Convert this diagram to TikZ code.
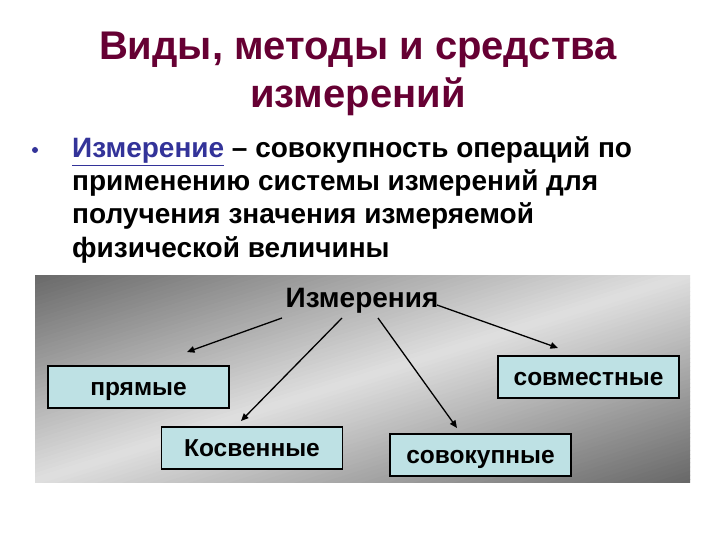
\documentclass[tikz,border=0pt]{standalone}
\usepackage{fontspec}
\setmainfont{Liberation Sans}
\usetikzlibrary{arrows.meta}
\definecolor{titlec}{RGB}{102,0,51}
\definecolor{linkc}{RGB}{51,51,153}
\definecolor{boxc}{RGB}{190,225,228}
\begin{document}
\begin{tikzpicture}[x=1pt,y=-1pt,
  titletxt/.style={font=\fontsize{40}{48}\selectfont\bfseries, text=titlec, inner sep=0pt, anchor=base},
  bodytxt/.style={font=\fontsize{28}{33}\selectfont\bfseries, inner sep=0pt, anchor=base west},
  headtxt/.style={font=\fontsize{28}{33}\selectfont\bfseries, inner sep=0pt, anchor=base},
  catbox/.style={draw=black, line width=1.1pt, fill=boxc, minimum width=181pt, minimum height=42pt, inner sep=0pt, text height=22pt, text depth=5pt, font=\fontsize{24.5}{28}\selectfont\bfseries},
  arr/.style={line width=1.3pt, -{Triangle[length=7.5pt,width=6.5pt]}}
]
\useasboundingbox (0,0) rectangle (720,540);
\fill[white] (0,0) rectangle (720,540);

% title
\node[titletxt] (t1) at (358,60) {Виды, методы и средства};
\node[titletxt] (t2) at (358,108) {измерений};

% bullet text
\node[circle, fill=linkc, inner sep=0pt, minimum size=6pt] (bul) at (35,150) {};
\node[bodytxt] (l1) at (72,158) {\textcolor{linkc}{\underline{Измерение}} – совокупность операций по};
\node[bodytxt] (l2) at (72,191) {применению системы измерений для};
\node[bodytxt] (l3) at (72,224) {получения значения измеряемой};
\node[bodytxt] (l4) at (72,257) {физической величины};

% panel with diagonal gradient
\begin{scope}
\clip (35,275) rectangle (690,482);
\foreach \d in {-260,-256,...,260}{
  \pgfmathtruncatemacro\gv{224-118*min(abs(\d+2)/196,1.1)}
  \fill[fill={rgb,255:red,\gv;green,\gv;blue,\gv}]
   ({362+0.30*\d-0.95*800},{378+0.95*\d+0.30*800}) --
   ({362+0.30*\d+0.95*800},{378+0.95*\d-0.30*800}) --
   ({362+0.30*(\d+4.6)+0.95*800},{378+0.95*(\d+4.6)-0.30*800}) --
   ({362+0.30*(\d+4.6)-0.95*800},{378+0.95*(\d+4.6)+0.30*800}) -- cycle;
}
\end{scope}

\node[headtxt] (izm) at (362,307) {Измерения};

\node[catbox] (pr) at (138.5,387) {прямые};
\node[catbox] (kos) at (252,448) {Косвенные};
\node[catbox] (sov) at (480.5,455) {совокупные};
\node[catbox] (sovm) at (588.5,377) {совместные};

\coordinate (s1) at (282,318);
\coordinate (e1) at (187,352);
\coordinate (s2) at (342,318);
\coordinate (e2) at (241,421);
\coordinate (s3) at (378,318);
\coordinate (e3) at (457,428);
\coordinate (s4) at (437,305);
\coordinate (e4) at (558,348);

\draw[arr] (s1) -- (e1);
\draw[arr] (s2) -- (e2);
\draw[arr] (s3) -- (e3);
\draw[arr] (s4) -- (e4);
\end{tikzpicture}
\end{document}
